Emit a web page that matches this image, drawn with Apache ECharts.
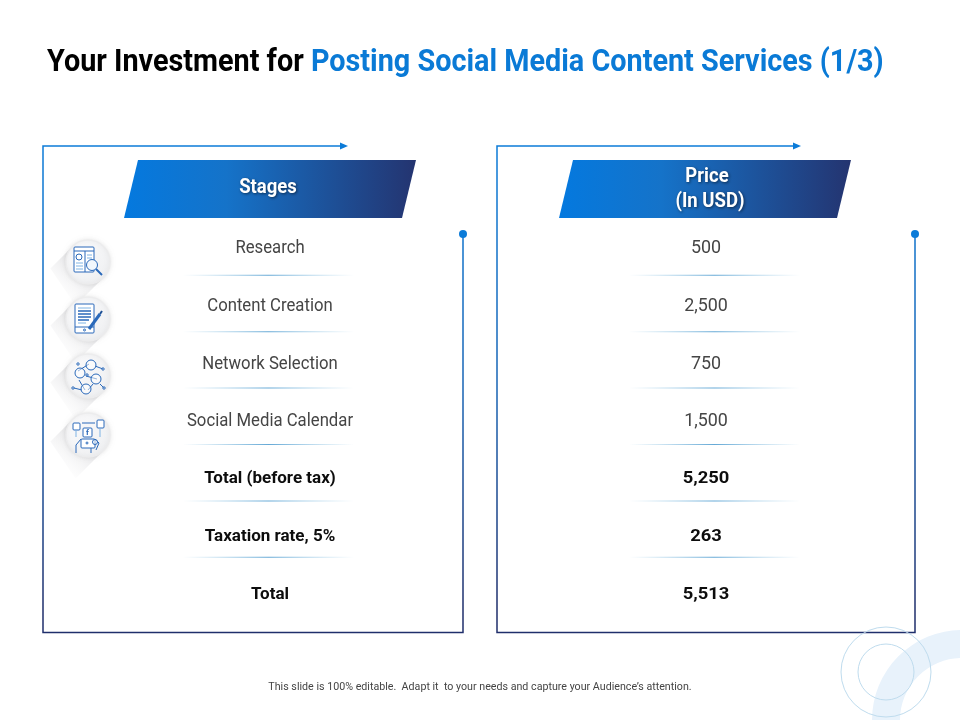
<!DOCTYPE html>
<html>
<head>
<meta charset="utf-8">
<title>Investment</title>
<script src="https://cdn.jsdelivr.net/npm/echarts@6/dist/echarts.min.js"></script>
<style>
  html, body { margin: 0; padding: 0; background: #fff; }
  #main { width: 960px; height: 720px; }
</style>
</head>
<body>
<div id="main"></div>
<script>
var columns = ['Stages', 'Price (In USD)'];
var stages = ['Research', 'Content Creation', 'Network Selection', 'Social Media Calendar', 'Total (before tax)', 'Taxation rate, 5%', 'Total'];
var prices = [500, 2500, 750, 1500, 5250, 263, 5513];
var titleBlack = 'Your Investment for ';
var titleBlue = 'Posting Social Media Content Services (1/3)';
var footnote = 'This slide is 100% editable.  Adapt it  to your needs and capture your Audience\u2019s attention.';

var BLUE = '#0b7bd8';
var NAVY = '#1f2e6b';
var ICON = '#2a69ba';
var FONT = 'Roboto';

var myChart = echarts.init(document.getElementById('main'), null, { renderer: 'canvas' });

var rows = [];
stages.forEach(function(name, i) {
  rows.push([0, i, name]);
  rows.push([1, i, prices[i].toLocaleString('en-US')]);
});

var renderRow = function(params, api) {
  var col = api.value(0);
  var row = api.value(1);
  var p = api.coord([col, row]);
  var bold = row >= 4;
  var bandH = api.size([0, 1])[1];
  var sx = bold ? (col === 0 ? 1.0 : 1.08) : (col === 0 ? 0.88 : 0.94);
  var children = [{
    type: 'text',
    x: p[0],
    y: p[1] + 1.2,
    scaleX: sx,
    style: {
      text: rows[params.dataIndex][2],
      x: 0,
      y: 0,
      align: 'center',
      verticalAlign: 'middle',
      font: (bold ? 'bold 17px ' : '19px ') + FONT,
      fill: bold ? '#0d0d0d' : '#454545'
    }
  }];
  if (row < stages.length - 1) {
    var lineX = p[0] + (col === 0 ? -87 : -77);
    children.push({
      type: 'rect',
      // rules sit a little tighter than the text rows
      shape: { x: lineX, y: p[1] + bandH / 2 - 1.5 - 1.2 * row, width: 171, height: 1 },
      style: {
        fill: new echarts.graphic.LinearGradient(0, 0, 1, 0, [
          { offset: 0, color: 'rgba(90,170,215,0)' },
          { offset: 0.5, color: 'rgba(50,140,200,0.75)' },
          { offset: 1, color: 'rgba(90,170,215,0)' }
        ])
      }
    });
  }
  return { type: 'group', children: children };
};

// panel frame: arrow on the top edge, dot at the end of the right edge
var panel = function(left, right, arrowX, headL) {
  var top = 146, bottom = 632.5, dotY = 234;
  return [{
    type: 'polyline',
    shape: { points: [[arrowX - 5, top], [left, top], [left, bottom], [right, bottom], [right, dotY]] },
    style: {
      fill: null,
      lineWidth: 1.5,
      stroke: new echarts.graphic.LinearGradient(0, 0, 0, 1, [
        { offset: 0, color: BLUE },
        { offset: 0.5, color: '#1763b4' },
        { offset: 0.95, color: NAVY },
        { offset: 1, color: NAVY }
      ])
    }
  }, {
    type: 'polygon',
    shape: { points: [[arrowX - 8, top - 3.5], [arrowX, top], [arrowX - 8, top + 3.5]] },
    style: { fill: BLUE }
  }, {
    type: 'circle',
    shape: { cx: right, cy: dotY, r: 4 },
    style: { fill: BLUE }
  }, {
    type: 'polygon',
    shape: { points: [[headL + 14, 160], [headL + 292, 160], [headL + 278, 218], [headL, 218]] },
    style: {
      fill: new echarts.graphic.LinearGradient(0, 0, 1, 0, [
        { offset: 0, color: '#0479df' },
        { offset: 0.35, color: '#1573c9' },
        { offset: 1, color: '#243470' }
      ])
    }
  }];
};

var headText = function(text, x, y) {
  return {
    type: 'text',
    x: x,
    y: y,
    scaleX: 0.95,
    style: {
      text: text,
      x: 0,
      y: 0,
      align: 'center',
      verticalAlign: 'middle',
      font: 'bold 19.5px ' + FONT,
      fill: '#fff',
      textShadowColor: 'rgba(0,0,0,0.55)',
      textShadowBlur: 3,
      textShadowOffsetX: 1,
      textShadowOffsetY: 1
    }
  };
};

// small line drawing helpers for the icons, coordinates are relative to the disc centre
var box = function(x, y, w, h, fill) {
  return { type: 'rect', shape: { x: x, y: y, width: w, height: h, r: 1 }, style: { fill: fill || '#fff', stroke: ICON, lineWidth: 1 } };
};
var ring = function(x, y, r, fill) {
  return { type: 'circle', shape: { cx: x, cy: y, r: r }, style: { fill: fill || 'rgba(255,255,255,0.5)', stroke: ICON, lineWidth: 1 } };
};
var ln = function(x1, y1, x2, y2, w, c) {
  return { type: 'line', shape: { x1: x1, y1: y1, x2: x2, y2: y2 }, style: { stroke: c || ICON, lineWidth: w || 1 } };
};

var iconResearch = [
  box(-14, -15, 20, 25), ln(-14, -11, 6, -11), ln(-3, -11, -3, 10),
  ring(-9, -5, 3), ln(-1, -7, 4, -7, 1, '#7fb3e4'), ln(-1, -4, 4, -4, 1, '#7fb3e4'), ln(-12, 1, -5, 1, 1, '#7fb3e4'), ln(-12, 4, -5, 4, 1, '#7fb3e4'), ln(-12, 7, -5, 7, 1, '#7fb3e4'),
  ring(4, 3, 5.5, '#f2f7fc'), ln(8, 7, 14, 13, 2)
];
var iconContent = [
  box(-13, -15, 19, 29), ln(-13, 8, 6, 8), ring(-3.5, 11, 1),
  ln(-10, -11, 3, -11, 1, '#7fb3e4'), ln(-10, -8, 3, -8, 1.5), ln(-10, -5, 3, -5, 1.5), ln(-10, -2, 3, -2, 1.5), ln(-10, 1, 1, 1, 1.5), ln(-10, 4, -2, 4, 1, '#7fb3e4'),
  ln(1, 10, 12, -5, 3), ln(12, -5, 14, -8, 2, '#1d4f94')
];
var iconNetwork = [
  ln(-10, -5, 1, -12), ln(-2, 0, 9, 3), ln(-9, 4, -3, 14), ln(5, 8, 0, 14), ln(7, -10, 15, -7), ln(-14, 12, -6, 14), ln(12, 8, 16, 12),
  ring(-8, -3, 5), ring(3, -11, 5), ring(8, 3, 5), ring(-2, 13, 5),
  ring(-10, -12, 1.2), ring(15, -7, 1.2), ring(-15, 12, 1.2), ring(16, 12, 1.2), ring(-1, -1, 1.2)
];
var iconSocial = [
  box(-15, -12, 7, 7), box(9, -15, 7, 8), box(-5, -7, 9, 9),
  ln(-6, -12, 7, -12), ln(-12, -5, -12, 2, 1, '#7fb3e4'), ln(12, -7, 12, 2, 1, '#7fb3e4'),
  { type: 'text', x: -0.5, y: -2.5, style: { text: 'f', x: 0, y: 0, align: 'center', verticalAlign: 'middle', font: 'bold 8px ' + FONT, fill: ICON } },
  box(-7, 4, 14, 9), ln(-7, 4, -12, 10), ln(-12, 10, -12, 18), ln(7, 4, 11, 8), ln(11, 8, 8, 15), ln(3, 13, 3, 18), ring(-1, 8, 1), ring(7, 7, 2.5)
];

var iconDisc = function(cx, cy, parts) {
  var r = 22;
  var d = r * Math.SQRT1_2;
  return [{
    type: 'polygon',
    shape: { points: [[cx - d, cy - d], [cx + d, cy + d], [cx + d - 28, cy + d + 28], [cx - d - 22, cy - d + 22]] },
    style: {
      fill: new echarts.graphic.LinearGradient(1, 0, 0, 1, [
        { offset: 0.35, color: 'rgba(185,185,190,0.4)' },
        { offset: 0.9, color: 'rgba(240,240,242,0)' }
      ])
    }
  }, {
    type: 'circle',
    shape: { cx: cx, cy: cy, r: r },
    style: {
      fill: new echarts.graphic.LinearGradient(0, 0, 1, 1, [
        { offset: 0, color: '#fbfbfc' },
        { offset: 1, color: '#eeeff1' }
      ]),
      stroke: '#ececed',
      lineWidth: 1.5,
      shadowColor: 'rgba(0,0,0,0.08)',
      shadowBlur: 4
    }
  }, {
    type: 'group',
    x: cx,
    y: cy,
    children: parts
  }];
};

var elements = [
  // corner decoration
  {
    type: 'ring',
    shape: { cx: 962, cy: 720, r: 90, r0: 62 },
    style: { fill: '#e8f2fb' }
  },
  {
    type: 'circle',
    shape: { cx: 886, cy: 672, r: 45 },
    style: { fill: null, stroke: '#bfdcee', lineWidth: 1 }
  },
  {
    type: 'circle',
    shape: { cx: 886, cy: 672, r: 28 },
    style: { fill: null, stroke: '#bfdcee', lineWidth: 1 }
  },
  {
    type: 'text',
    x: 47,
    y: 63,
    scaleX: 0.9,
    style: {
      text: '{a|' + titleBlack + '}{b|' + titleBlue + '}',
      x: 0,
      y: 0,
      align: 'left',
      verticalAlign: 'middle',
      rich: {
        a: { font: 'bold 32px ' + FONT, fill: '#000' },
        b: { font: 'bold 32px ' + FONT, fill: '#0a7ad6' }
      }
    }
  },
  {
    type: 'text',
    x: 480,
    y: 687.5,
    scaleX: 1.017,
    style: {
      text: footnote,
      x: 0,
      y: 0,
      align: 'center',
      verticalAlign: 'middle',
      font: '10.5px ' + FONT,
      fill: '#444'
    }
  },
  headText('Stages', 268, 188.5),
  headText('Price', 707, 177.5),
  headText('(In USD)', 710, 202.5)
];
elements = panel(43, 463, 348, 124).concat(panel(497, 915, 801, 559)).concat(elements);
elements = elements
  .concat(iconDisc(88, 262, iconResearch))
  .concat(iconDisc(88, 319, iconContent))
  .concat(iconDisc(88, 376, iconNetwork))
  .concat(iconDisc(88, 435, iconSocial));

var option = {
  animation: false,
  backgroundColor: '#fff',
  textStyle: { fontFamily: FONT },
  grid: { left: 52, width: 872, top: 218.7, height: 403.2 },
  xAxis: { type: 'category', data: columns, show: false },
  yAxis: { type: 'category', data: stages, inverse: true, show: false },
  graphic: { elements: elements },
  series: [{
    type: 'custom',
    renderItem: renderRow,
    encode: { x: 0, y: 1 },
    data: rows,
    clip: false
  }]
};

myChart.setOption(option);
</script>
</body>
</html>
